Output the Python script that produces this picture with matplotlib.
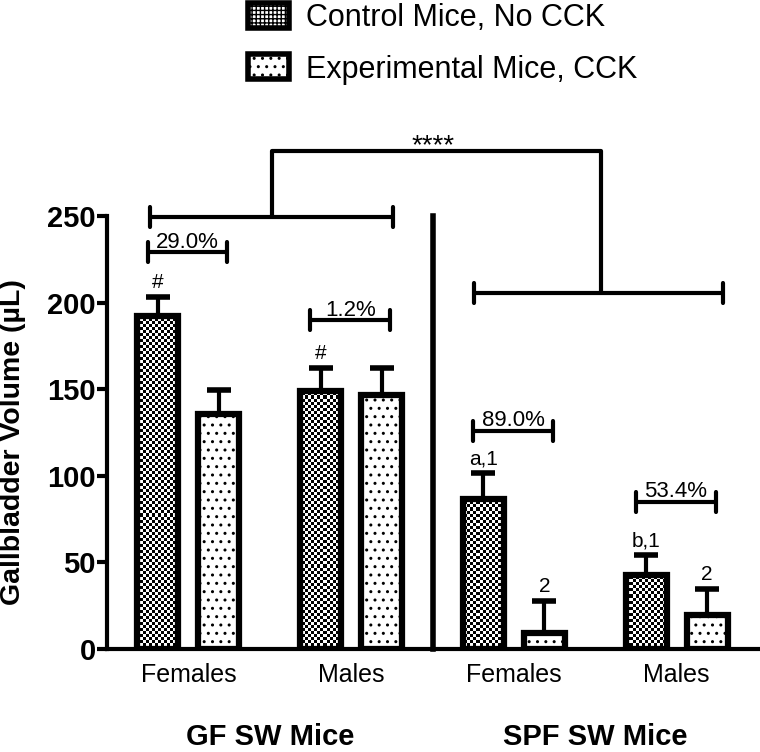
import matplotlib.pyplot as plt
from matplotlib.patches import Patch
import numpy as np

plt.rcParams['font.family'] = ['Liberation Sans', 'DejaVu Sans']
plt.rcParams['hatch.linewidth'] = 1.0

# data
groups = ['Females', 'Males', 'Females', 'Males']
control_mean = [192, 149, 86.5, 43]
control_sem = [11, 13, 15, 11]
exp_mean = [135.5, 146.5, 9, 19.5]
exp_sem = [14, 15.5, 18.5, 15]
control_marks = ['#', '#', 'a,1', 'b,1']
exp_marks = ['', '', '2', '2']
pct_labels = ['29.0%', '1.2%', '89.0%', '53.4%']
pct_levels = [229, 190, 126, 85]
strain_labels = ['GF SW Mice', 'SPF SW Mice']
legend_labels = ['Control Mice, No CCK', 'Experimental Mice, CCK']

x = np.arange(len(groups))
off = 0.1875
w = 0.252

fig = plt.figure(figsize=(7.6, 7.52), dpi=100)
ax = fig.add_axes([107 / 760, 103 / 752, 651 / 760, 433 / 752])
ax.set_xlim(-0.5, 3.5)
ax.set_ylim(0, 250)

# control bars: white face, checkerboard image clipped inside, then outline
ctrl = ax.bar(x - off, control_mean, w, facecolor='white', edgecolor='none', zorder=1)
checker = np.indices((144, 217)).sum(axis=0) % 2
for b in ctrl:
    im = ax.imshow(checker, cmap='gray', extent=(-0.5, 3.5, 0, 250), aspect='auto',
                   interpolation='nearest', zorder=1.5)
    im.set_clip_path(b)
ax.bar(x - off, control_mean, w, fill=False, edgecolor='black', linewidth=4.5, zorder=2)

ax.bar(x + off, exp_mean, w, facecolor='white', edgecolor='black',
       linewidth=4.5, hatch='..', zorder=2)
ax.errorbar(x - off, control_mean, yerr=[np.zeros(len(x)), control_sem],
            fmt='none', ecolor='black', elinewidth=3, capsize=8.5, capthick=4, zorder=3)
ax.errorbar(x + off, exp_mean, yerr=[np.zeros(len(x)), exp_sem],
            fmt='none', ecolor='black', elinewidth=3, capsize=8.5, capthick=4, zorder=3)

# letters above the error bars
for i in range(len(x)):
    if control_marks[i]:
        ax.text(x[i] - off, control_mean[i] + control_sem[i] + 3, control_marks[i],
                ha='center', va='bottom', fontsize=15)
    if exp_marks[i]:
        ax.text(x[i] + off, exp_mean[i] + exp_sem[i] + 3, exp_marks[i],
                ha='center', va='bottom', fontsize=15)

lk = dict(color='black', lw=3, clip_on=False, solid_capstyle='round')


def bracket(x0, x1, y, t=5.8):
    ax.plot([x0, x1], [y, y], **lk)
    ax.plot([x0, x0], [y - t, y + t], **lk)
    ax.plot([x1, x1], [y - t, y + t], **lk)


# percent reduction brackets
for i in range(len(x)):
    bracket(x[i] - 0.25, x[i] + 0.24, pct_levels[i])
    ax.text(x[i] - 0.005, pct_levels[i] + 2.5, pct_labels[i], ha='center',
            va='baseline', fontsize=16)

# GF vs SPF comparison
bracket(-0.236, 1.257, 249.5)
bracket(1.755, 3.285, 205.5)
ax.plot([0.514, 0.514, 2.535, 2.535], [249.5, 287.5, 287.5, 205.5], **lk)
ax.text(1.503, 283, '****', ha='center', va='bottom', fontsize=20)

# divider between GF and SPF
ax.plot([1.5, 1.5], [0, 250], color='black', lw=4, clip_on=False)

ax.set_yticks([0, 50, 100, 150, 200, 250])
ax.set_xticks(x, groups, fontsize=18)
ax.tick_params(axis='x', length=0, pad=10)
ax.tick_params(axis='y', length=7, width=3, labelsize=21, pad=1)
for lab in ax.get_yticklabels():
    lab.set_fontweight('bold')
for s in ['top', 'right']:
    ax.spines[s].set_visible(False)
for s in ['left', 'bottom']:
    ax.spines[s].set_linewidth(3)
    ax.spines[s].set_zorder(4)

ax.set_ylabel('Gallbladder Volume (µL)', fontsize=20.5, fontweight='bold')
ax.yaxis.set_label_coords(-0.125, 0.478)

for gx, lab in zip([0.5, 2.5], strain_labels):
    ax.text(gx, -0.204, lab, transform=ax.get_xaxis_transform(), ha='center',
            va='center', fontsize=21, fontweight='bold')

handles = [Patch(facecolor='white', edgecolor='black', linewidth=4, hatch='++++'),
           Patch(facecolor='white', edgecolor='black', linewidth=4, hatch='..')]
fig.legend(handles, legend_labels, loc='upper left', bbox_to_anchor=(0.322, 1.0),
           frameon=False, fontsize=22, handlelength=1.34, handleheight=0.88,
           handletextpad=0.55, labelspacing=0.7, borderpad=0.1, borderaxespad=0)

fig.savefig('out.png', dpi=100)
